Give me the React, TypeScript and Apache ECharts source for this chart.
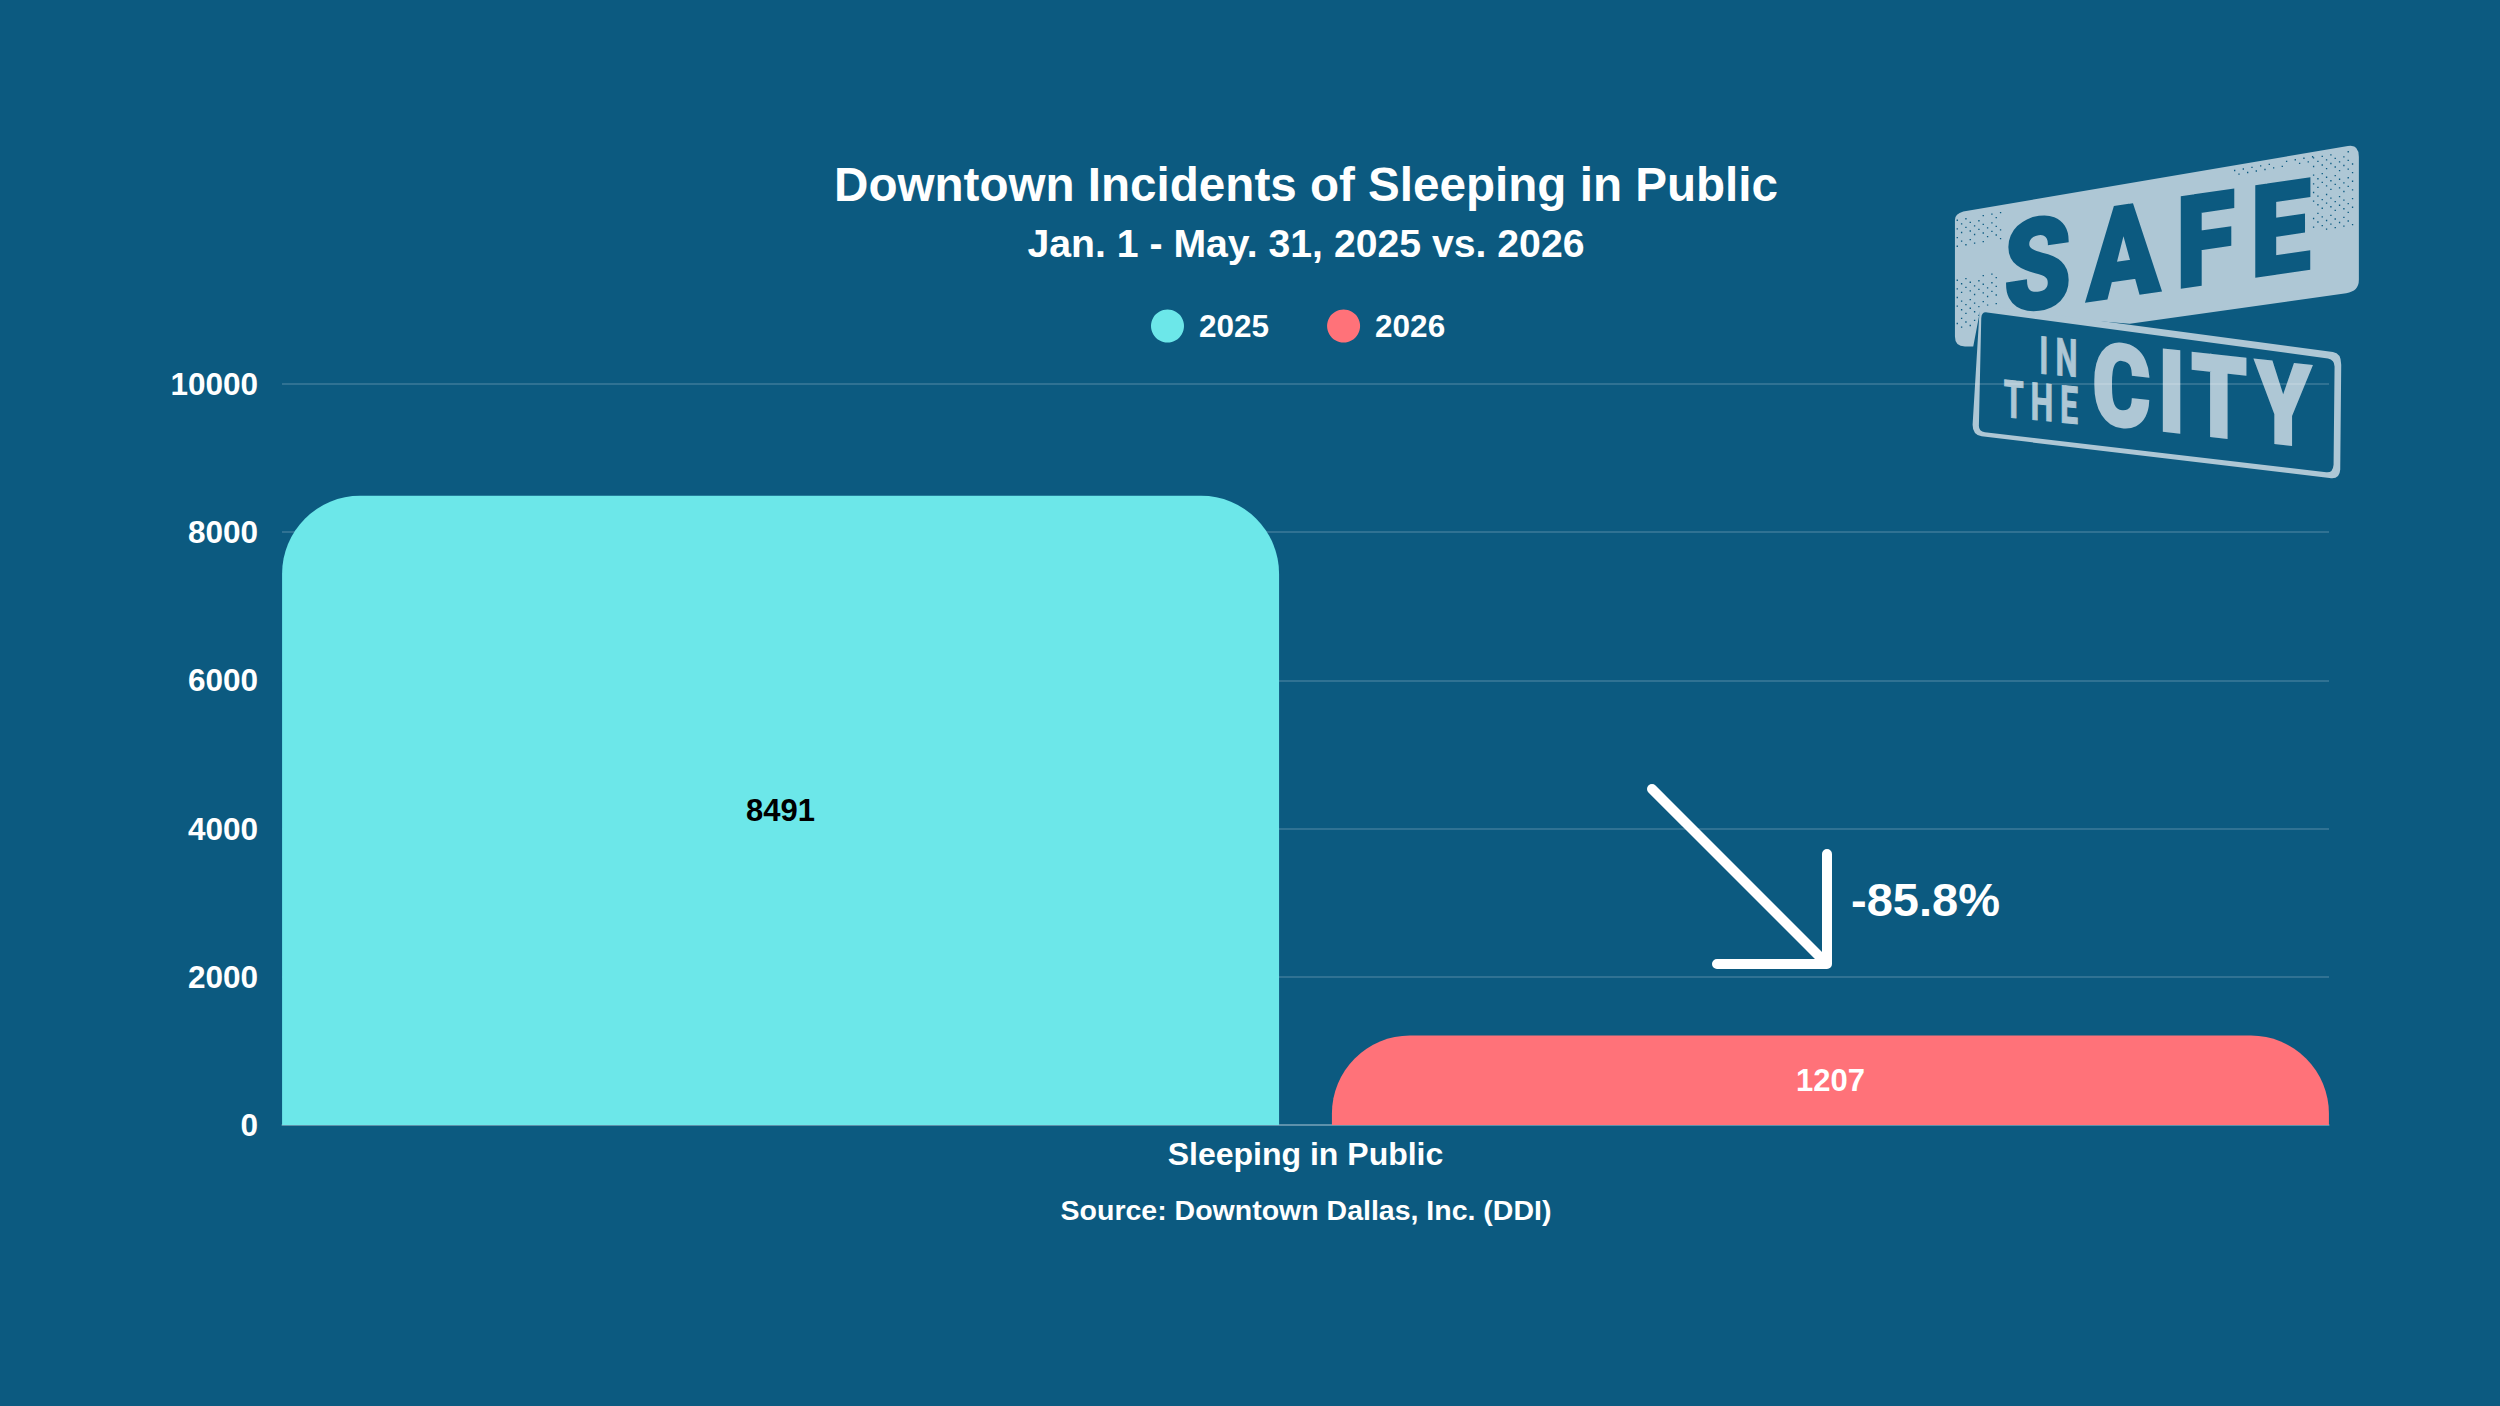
import React, { useEffect, useRef } from "react";
import * as echarts from "echarts";

const categories = ["Sleeping in Public"];
const values2025 = [8491];
const values2026 = [1207];
const BG = "#0c5a80";
const LOGO = "#aec7d5";

const platePath =
  "M165,300 Q165,282 190,275 L1345,78 Q1378,72 1378,110 L1378,480 Q1378,515 1340,520 L690,612 L240,575 L220,680 L195,680 Q165,680 165,650 Z";
const panelOuter =
  "M240,555 L1300,697 Q1325,700 1325,735 L1322,1050 Q1320,1080 1290,1075 L245,950 Q218,945 218,915 Z";
const panelInner =
  "M262,578 L1285,716 Q1305,720 1305,740 L1302,1035 Q1300,1060 1280,1058 L255,938 Q235,935 237,915 L244,595 Q245,575 262,578 Z";

// halftone wear on the logo plate: [x start, x end, offset start, offset end]
const wearPatches = [
  [1240, 1370, 12, 240],
  [990, 1240, 8, 32],
  [170, 310, 10, 100],
  [170, 300, 190, 340],
];
function buildWear() {
  let d = "";
  for (const [x0, x1, v0, v1] of wearPatches) {
    for (let x = x0; x < x1; x += 13) {
      for (let v = v0; v < v1; v += 13) {
        const i = Math.round(x / 13), j = Math.round(v / 13);
        if ((i + j) % 2 !== 0 || (i * 3 + j * 5) % 7 === 0) continue;
        const y = 290 - 0.177 * (x - 165) + v;
        d += `M${x},${y} h4 v4 h-4 Z `;
      }
    }
  }
  return d;
}
echarts.graphic.registerShape("logoPlate", echarts.graphic.extendPath(platePath, {}));
echarts.graphic.registerShape("logoOuter", echarts.graphic.extendPath(panelOuter, {}));
echarts.graphic.registerShape("logoInner", echarts.graphic.extendPath(panelInner, {}));
echarts.graphic.registerShape("logoWear", echarts.graphic.extendPath(buildWear(), {}));

const FONT = "'Liberation Sans', Arial, sans-serif";
const lx = (v: number) => 1900 + v / 3;
const ly = (v: number) => 120 + v / 3;
const logoShape = (type: string, fill: string) => ({
  type, x: 1900, y: 120, scaleX: 1 / 3, scaleY: 1 / 3, z: -1, silent: true, style: { fill },
});
const spacing: Record<string, number> = { SAFE: 19, IN: 12, THE: 11, CITY: 10 };
const logoText = (text: string, cx: number, cy: number, size: number, weight: number, fill: string, skewY: number, scaleX: number, stroke: number) => ({
  type: "text", x: lx(cx) + (spacing[text] * scaleX) / 2, y: ly(cy), z: -1, silent: true, skewY, scaleX,
  style: { text, fill, stroke: fill, lineWidth: stroke, font: `${weight} ${size}px Roboto, ${FONT}`, align: "center", verticalAlign: "middle" },
});

export default function App() {
  const ref = useRef<HTMLDivElement>(null);
  useEffect(() => {
    document.body.style.margin = "0";
    const chart = echarts.init(ref.current!, undefined, { renderer: "svg" });
    chart.setOption({
      animation: false,
      backgroundColor: BG,
      textStyle: { fontFamily: FONT },
      title: {
        text: "Downtown Incidents of Sleeping in Public",
        subtext: "Jan. 1 - May. 31, 2025 vs. 2026",
        left: 1301,
        top: 155.5,
        textAlign: "center",
        itemGap: 15,
        textStyle: { color: "#fff", fontSize: 47.6, fontWeight: "bold", fontFamily: FONT },
        subtextStyle: { color: "#fff", fontSize: 39.2, fontWeight: "bold", fontFamily: FONT },
      },
      legend: {
        data: ["2025", "2026"],
        left: 1146,
        top: 304.5,
        icon: "circle",
        itemWidth: 33,
        itemHeight: 33,
        itemGap: 58,
        textStyle: { color: "#fff", fontSize: 31.5, fontWeight: "bold", fontFamily: FONT, padding: [0, 0, 0, 10] },
      },
      grid: { left: 282, right: 171, top: 384, bottom: 281 },
      xAxis: {
        type: "category",
        data: categories,
        axisTick: { show: false },
        axisLine: { lineStyle: { color: "rgba(255,255,255,0.3)", width: 1.5 } },
        axisLabel: { color: "#fff", fontSize: 32, fontWeight: "bold", margin: 12.5, fontFamily: FONT },
      },
      yAxis: {
        type: "value",
        min: 0,
        max: 10000,
        interval: 2000,
        axisLine: { show: false },
        axisTick: { show: false },
        axisLabel: { color: "#fff", fontSize: 31.5, fontWeight: "bold", margin: 24, fontFamily: FONT, formatter: (v: number) => String(v) },
        splitLine: { lineStyle: { color: "rgba(255,255,255,0.2)", width: 1.5 } },
      },
      series: [
        {
          name: "2025",
          type: "bar",
          data: values2025,
          barWidth: 997,
          barGap: "5.3%",
          itemStyle: { color: "#6ce7e9", borderRadius: [78, 78, 0, 0] },
          label: { show: true, position: "inside", color: "#000", fontSize: 31, fontWeight: "bold", fontFamily: FONT },
        },
        {
          name: "2026",
          type: "bar",
          data: values2026,
          barWidth: 997,
          itemStyle: { color: "#ff7279", borderRadius: [78, 78, 0, 0] },
          label: { show: true, position: "inside", color: "#fff", fontSize: 31, fontWeight: "bold", fontFamily: FONT },
        },
      ],
      graphic: [
        logoShape("logoPlate", LOGO),
        logoShape("logoWear", BG),
        logoShape("logoOuter", LOGO),
        logoShape("logoInner", BG),
        logoText("SAFE", 772, 380, 126, 900, BG, 0.145, 0.85, 3),
        logoText("IN", 475, 712, 52, 700, LOGO, -0.1, 0.6, 1),
        logoText("THE", 423, 850, 52, 700, LOGO, -0.1, 0.62, 1),
        logoText("CITY", 905, 830, 113, 900, LOGO, -0.11, 0.78, 3),
        {
          type: "text",
          x: 1306,
          y: 1210,
          style: { text: "Source: Downtown Dallas, Inc. (DDI)", fill: "#fff", font: `bold 28.5px ${FONT}`, align: "center", verticalAlign: "middle" },
        },
        {
          type: "line",
          z: 10,
          shape: { x1: 1652, y1: 789, x2: 1825, y2: 962 },
          style: { stroke: "#fff", lineWidth: 10, lineCap: "round" },
        },
        {
          type: "polyline",
          z: 10,
          shape: { points: [[1827, 854], [1827, 964], [1717, 964]] },
          style: { stroke: "#fff", fill: "none", lineWidth: 10, lineCap: "round", lineJoin: "round" },
        },
        {
          type: "text",
          x: 1851,
          y: 899,
          z: 10,
          style: { text: "-85.8%", fill: "#fff", font: `bold 47px ${FONT}`, align: "left", verticalAlign: "middle" },
        },
      ],
    });
    // the logo's wordmark is letter-spaced, which the text style cannot express
    ref.current!.querySelectorAll("text").forEach((t) => {
      const s = spacing[t.textContent || ""];
      if (s) t.setAttribute("letter-spacing", `${s}px`);
    });
    return () => chart.dispose();
  }, []);
  return <div ref={ref} style={{ position: "absolute", left: 0, top: 0, width: 2500, height: 1406 }} />;
}
